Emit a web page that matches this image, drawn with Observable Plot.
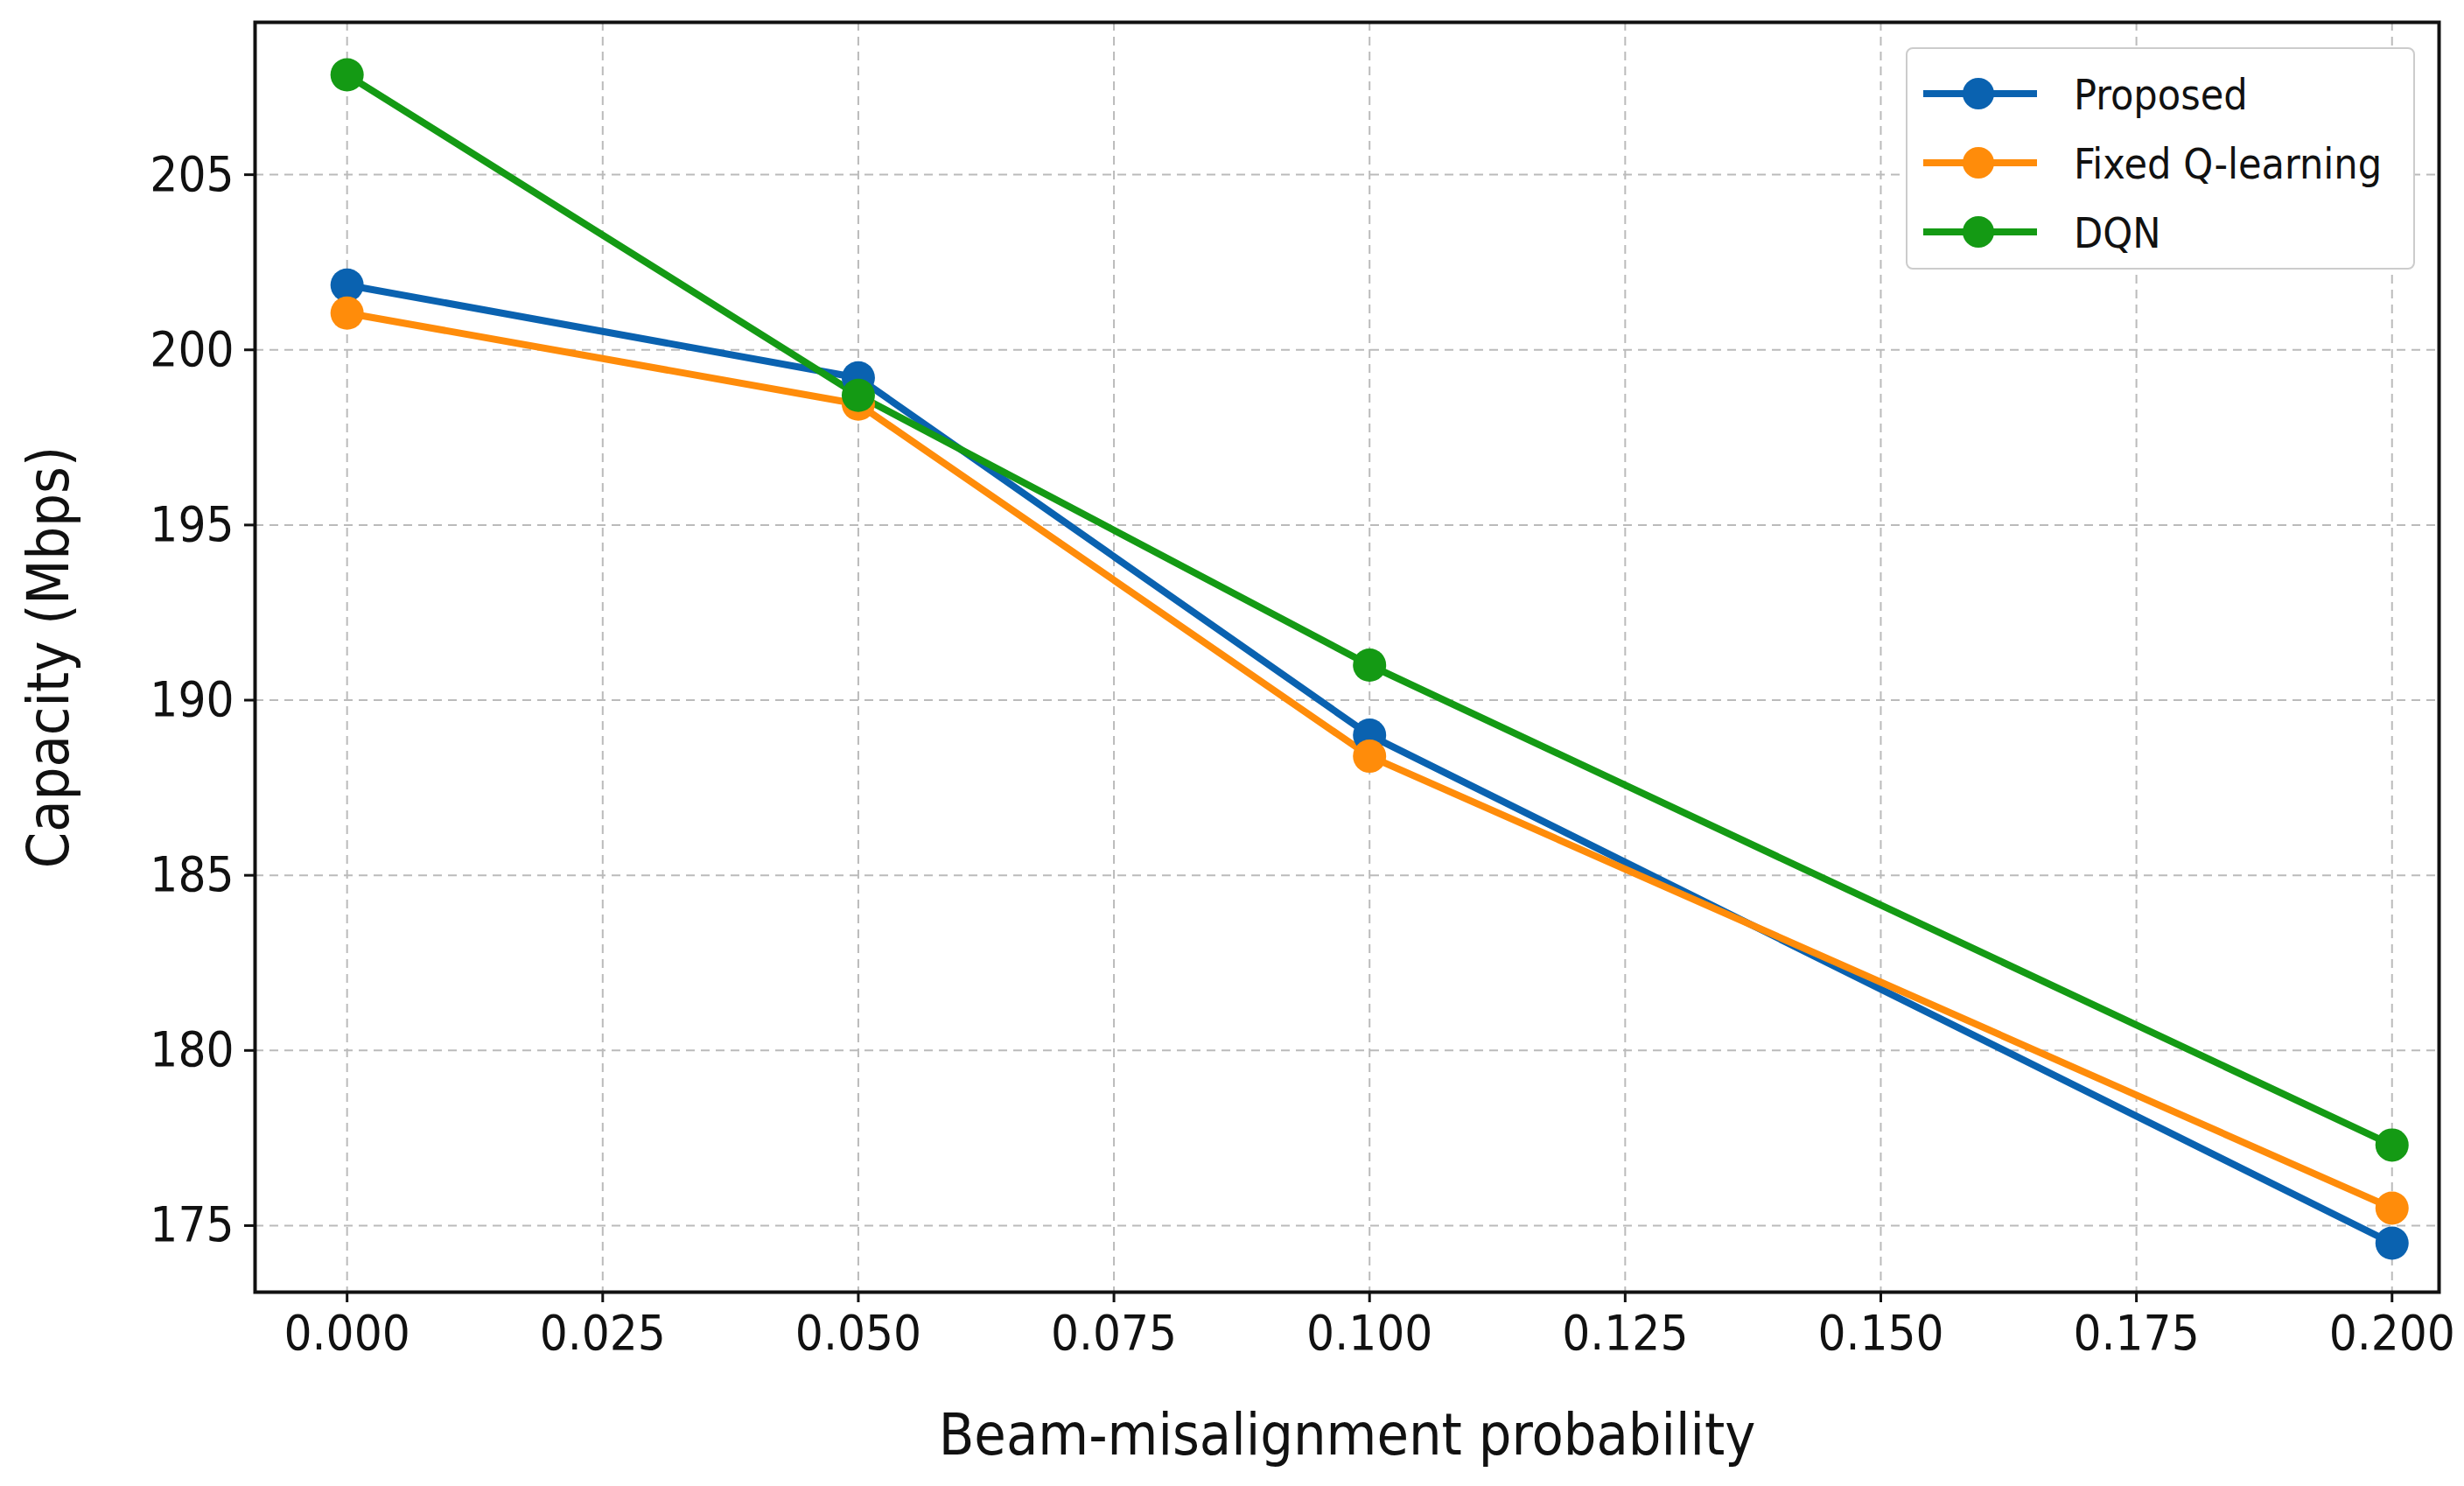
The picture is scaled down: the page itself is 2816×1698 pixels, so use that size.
<!DOCTYPE html>
<html><head><meta charset="utf-8">
<script src="https://cdn.jsdelivr.net/npm/d3@7"></script>
<script src="https://cdn.jsdelivr.net/npm/@observablehq/plot@0.6"></script>
<style>
body{margin:0;background:#fff;font-family:"DejaVu Sans Condensed","DejaVu Sans",sans-serif;}
#wrap{position:relative;width:2816px;height:1698px;}
#legend{position:absolute;left:2178px;top:54px;width:582px;height:254px;border:2px solid #ccc;border-radius:8px;background:#fff;box-sizing:border-box;padding:12px 0 0 18px;}
.item{display:flex;align-items:center;height:79px;font-size:48px;color:#111;}
.sw{position:relative;width:130px;height:10px;margin-right:42px;}
.sw i{position:absolute;left:0;right:0;top:0;height:8px;}
.sw b{position:absolute;left:45px;top:-14px;width:36px;height:36px;border-radius:50%;}
</style></head><body>
<div id="wrap"><div id="chart"></div><div id="legend"></div></div>
<script>
const xs=[0,0.05,0.1,0.2];
const series=["Proposed","Fixed Q-learning","DQN"];
const colors=["#0a62b0","#ff8c0a","#149a14"];
const proposed=[201.85,199.2,189.0,174.5];
const fixedQ=[201.05,198.45,188.4,175.5];
const dqn=[207.85,198.7,191.0,177.3];
const xTicks=[0,0.025,0.05,0.075,0.1,0.125,0.15,0.175,0.2];
const yTicks=[175,180,185,190,195,200,205];
const vals=[proposed,fixedQ,dqn];
const data=series.flatMap((s,i)=>xs.map((x,j)=>({s,x,y:vals[i][j]})));
const plot=Plot.plot({
 width:2816,height:1698,marginLeft:291,marginRight:29,marginTop:25,marginBottom:222,
 style:{fontFamily:"DejaVu Sans Condensed, DejaVu Sans",fontSize:"56px",color:"#111"},
 x:{domain:[-0.009,0.2046]},
 y:{domain:[173.1,209.35]},
 color:{domain:series,range:colors},
 marks:[
  Plot.gridX(xTicks,{stroke:"#bbb",strokeOpacity:1,strokeDasharray:"10,7",strokeWidth:2}),
  Plot.gridY(yTicks,{stroke:"#bbb",strokeOpacity:1,strokeDasharray:"10,7",strokeWidth:2}),
  Plot.line(data,{x:"x",y:"y",stroke:"s",strokeWidth:8}),
  Plot.dot(data,{x:"x",y:"y",fill:"s",r:19}),
  Plot.frame({stroke:"#111",strokeWidth:4}),
  Plot.axisX({ticks:xTicks,tickFormat:d3.format(".3f"),tickSize:12,tickPadding:14,strokeWidth:3,fontSize:56,label:"Beam-misalignment probability",labelAnchor:"center",labelOffset:185,labelArrow:"none"}),
  Plot.axisY({ticks:yTicks,tickSize:12,tickPadding:12,strokeWidth:3,fontSize:56,label:"Capacity (Mbps)",labelAnchor:"center",labelOffset:260,labelArrow:"none"})
 ]
});
document.getElementById("chart").appendChild(plot);
plot.querySelectorAll("g[aria-label='x-axis label'] text, g[aria-label='y-axis label'] text").forEach(t=>t.setAttribute("font-size","66"));
const lg=document.getElementById("legend");
series.forEach((s,i)=>{lg.insertAdjacentHTML("beforeend",`<div class="item"><div class="sw"><i style="background:${colors[i]}"></i><b style="background:${colors[i]}"></b></div>${s}</div>`);});
</script></body></html>
